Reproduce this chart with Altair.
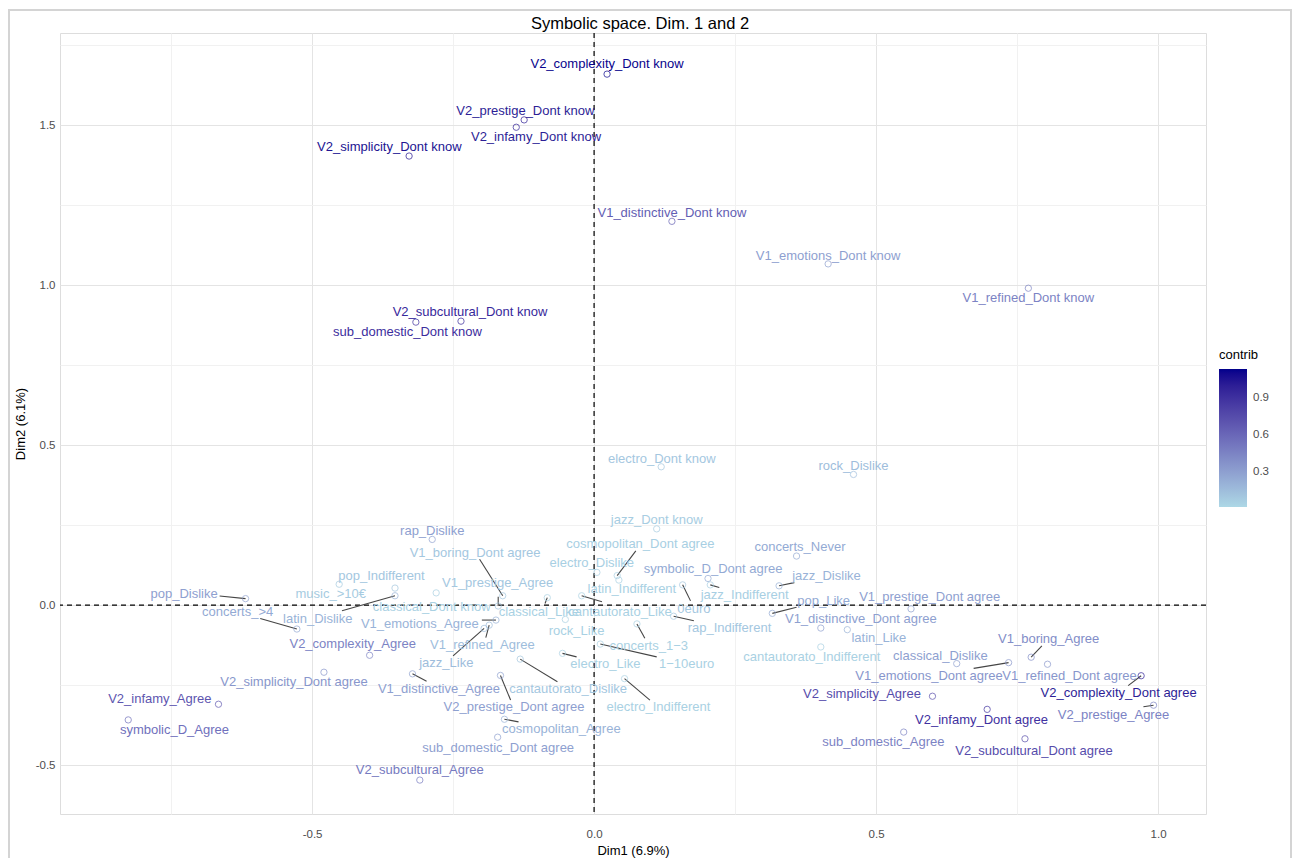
import altair as alt
import pandas as pd

# ---- data (MCA variable categories) ----
names = [
    "V2_complexity_Dont know", "V2_prestige_Dont know", "V2_infamy_Dont know", "V2_simplicity_Dont know",
    "V1_distinctive_Dont know", "V2_subcultural_Dont know", "sub_domestic_Dont know", "V1_emotions_Dont know",
    "V1_refined_Dont know", "electro_Dont know", "rock_Dislike", "jazz_Dont know",
    "cosmopolitan_Dont agree", "electro_Dislike", "latin_Indifferent", "symbolic_D_Dont agree",
    "jazz_Indifferent", "0euro", "rap_Indifferent", "cantautorato_Like",
    "concerts_1\u22123", "1\u221210euro", "electro_Like", "rock_Like",
    "classical_Like", "V1_boring_Dont agree", "V1_prestige_Agree", "classical_Dont know",
    "pop_Indifferent", "latin_Dislike", "music_>10\u20ac", "pop_Dislike",
    "concerts_>4", "V2_complexity_Agree", "V2_simplicity_Dont agree", "V2_infamy_Agree",
    "symbolic_D_Agree", "rap_Dislike", "V1_emotions_Agree", "jazz_Like",
    "V1_refined_Agree", "V1_distinctive_Agree", "cantautorato_Dislike", "V2_prestige_Dont agree",
    "electro_Indifferent", "cosmopolitan_Agree", "sub_domestic_Dont agree", "V2_subcultural_Agree",
    "concerts_Never", "jazz_Dislike", "pop_Like", "V1_prestige_Dont agree",
    "V1_distinctive_Dont agree", "latin_Like", "cantautorato_Indifferent", "classical_Dislike",
    "V1_emotions_Dont agree", "V1_boring_Agree", "V1_refined_Dont agree", "V2_complexity_Dont agree",
    "V2_prestige_Agree", "V2_simplicity_Agree", "V2_infamy_Dont agree", "sub_domestic_Agree",
    "V2_subcultural_Dont agree",
]
dim1 = [
    0.023, -0.124, -0.138, -0.328,
    0.138, -0.236, -0.316, 0.415,
    0.770, 0.119, 0.460, 0.111,
    0.041, 0.005, 0.044, 0.202,
    0.206, 0.157, 0.141, -0.022,
    0.076, 0.011, -0.056, -0.051,
    -0.083, -0.162, -0.170, -0.280,
    -0.353, -0.353, -0.452, -0.618,
    -0.527, -0.398, -0.479, -0.666,
    -0.826, -0.287, -0.174, -0.195,
    -0.186, -0.322, -0.131, -0.166,
    0.054, -0.159, -0.171, -0.309,
    0.359, 0.328, 0.316, 0.562,
    0.402, 0.449, 0.402, 0.643,
    0.735, 0.775, 0.804, 0.970,
    0.992, 0.600, 0.697, 0.549,
    0.764,
]
dim2 = [
    1.659, 1.516, 1.493, 1.403,
    1.199, 0.887, 0.884, 1.066,
    0.990, 0.432, 0.408, 0.238,
    0.092, 0.102, 0.078, 0.083,
    0.063, 0.063, -0.035, 0.029,
    -0.059, -0.122, -0.151, -0.045,
    0.023, 0.029, -0.003, 0.038,
    0.053, 0.029, 0.065, 0.020,
    -0.075, -0.157, -0.210, -0.310,
    -0.359, 0.205, -0.047, -0.073,
    -0.063, -0.215, -0.169, -0.220,
    -0.230, -0.357, -0.413, -0.547,
    0.153, 0.060, -0.026, -0.012,
    -0.072, -0.077, -0.131, -0.183,
    -0.180, -0.163, -0.185, -0.221,
    -0.313, -0.285, -0.326, -0.397,
    -0.418,
]
# repelled label positions (data units)
lab_x = [
    0.023, -0.122, -0.103, -0.363,
    0.138, -0.220, -0.331, 0.415,
    0.770, 0.120, 0.460, 0.111,
    0.082, -0.004, 0.067, 0.211,
    0.267, 0.177, 0.240, 0.046,
    0.097, 0.164, 0.020, -0.031,
    -0.098, -0.211, -0.171, -0.288,
    -0.377, -0.490, -0.467, -0.727,
    -0.632, -0.428, -0.532, -0.770,
    -0.744, -0.287, -0.309, -0.262,
    -0.198, -0.275, -0.046, -0.142,
    0.114, -0.058, -0.170, -0.309,
    0.365, 0.412, 0.407, 0.595,
    0.473, 0.505, 0.386, 0.614,
    0.594, 0.806, 0.843, 0.930,
    0.921, 0.475, 0.687, 0.513,
    0.780,
]
lab_y = [
    1.691, 1.544, 1.463, 1.432,
    1.226, 0.916, 0.853, 1.092,
    0.958, 0.457, 0.435, 0.266,
    0.190, 0.132, 0.049, 0.113,
    0.031, -0.012, -0.071, -0.021,
    -0.127, -0.183, -0.183, -0.081,
    -0.021, 0.162, 0.068, -0.005,
    0.092, -0.044, 0.034, 0.034,
    -0.022, -0.122, -0.242, -0.293,
    -0.392, 0.231, -0.060, -0.182,
    -0.125, -0.263, -0.263, -0.318,
    -0.318, -0.388, -0.448, -0.516,
    0.180, 0.091, 0.013, 0.024,
    -0.045, -0.104, -0.162, -0.159,
    -0.221, -0.106, -0.221, -0.276,
    -0.344, -0.278, -0.359, -0.429,
    -0.457,
]
contrib = [
    1.12, 1.00, 1.00, 1.05,
    0.65, 0.95, 0.92, 0.30,
    0.45, 0.10, 0.15, 0.07,
    0.06, 0.06, 0.05, 0.25,
    0.06, 0.10, 0.10, 0.05,
    0.05, 0.05, 0.05, 0.05,
    0.05, 0.10, 0.10, 0.05,
    0.10, 0.20, 0.08, 0.30,
    0.25, 0.45, 0.35, 0.70,
    0.55, 0.30, 0.20, 0.15,
    0.15, 0.30, 0.10, 0.30,
    0.05, 0.20, 0.30, 0.50,
    0.25, 0.20, 0.25, 0.30,
    0.30, 0.20, 0.05, 0.30,
    0.35, 0.40, 0.35, 1.00,
    0.45, 0.75, 0.90, 0.45,
    0.75,
]
# repel segments: label-side end point for categories whose label was pushed away
seg_names = [
    "cosmopolitan_Dont agree", "jazz_Indifferent", "0euro", "rap_Indifferent", "cantautorato_Like",
    "concerts_1\u22123", "1\u221210euro", "electro_Like", "classical_Like", "V1_boring_Dont agree",
    "V1_prestige_Agree", "latin_Dislike", "pop_Dislike", "concerts_>4", "V1_emotions_Agree",
    "jazz_Like", "V1_refined_Agree", "V1_distinctive_Agree", "cantautorato_Dislike",
    "V2_prestige_Dont agree", "electro_Indifferent", "cosmopolitan_Agree", "jazz_Dislike",
    "pop_Like", "V1_emotions_Dont agree", "V1_boring_Agree", "V2_complexity_Dont agree",
    "V2_prestige_Agree",
]
seg_x = [
    0.074, 0.222, 0.171, 0.177, 0.014,
    0.090, 0.111, -0.031, -0.087, -0.203,
    -0.170, -0.447, -0.664, -0.592, -0.199,
    -0.250, -0.192, -0.297, -0.065,
    -0.148, 0.099, -0.134, 0.355,
    0.359, 0.673, 0.794, 0.947,
    0.974,
]
seg_y = [
    0.169, 0.055, 0.013, -0.049, 0.010,
    -0.104, -0.162, -0.162, 0.005, 0.143,
    0.026, -0.018, 0.028, -0.042, -0.047,
    -0.159, -0.102, -0.238, -0.240,
    -0.297, -0.297, -0.365, 0.070,
    -0.007, -0.198, -0.128, -0.252,
    -0.318,
]
chart_title = "Symbolic space. Dim. 1 and 2"

df = pd.DataFrame(dict(name=names, dim1=dim1, dim2=dim2, lab_x=lab_x, lab_y=lab_y, contrib=contrib))
seg = pd.DataFrame(dict(name=seg_names, sx=seg_x, sy=seg_y)).merge(
    df[["name", "dim1", "dim2"]], on="name")

FONT = "Liberation Sans"
W, H = 1146, 781
xscale = alt.Scale(domain=[-0.947, 1.085], nice=False, zero=False)
yscale = alt.Scale(domain=[-0.653, 1.7875], nice=False, zero=False)
C_RANGE = ["#ADD8E6", "#00008B"]
cscale = alt.Scale(domain=[0.016, 1.135], range=C_RANGE, interpolate="lab")
# separate (practically identical) scale for the point outlines, so its hidden legend is not merged
sscale = alt.Scale(domain=[0.0160001, 1.135], range=C_RANGE, interpolate="lab")

major = "abs(datum.value*2 - round(datum.value*2)) < 0.001"
lab_expr = major + " ? replace(format(datum.value, '.1f'), '\u2212', '-') : ''"
grid_col = {"condition": {"test": major, "value": "#e4e4e4"}, "value": "#f1f1f1"}

xaxis = alt.Axis(values=[-0.75, -0.5, -0.25, 0, 0.25, 0.5, 0.75, 1.0], labelExpr=lab_expr,
                 title="Dim1 (6.9%)", ticks=False, domain=False, gridColor=grid_col,
                 labelPadding=14, titlePadding=5, labelFontSize=11.5, titleFontSize=13,
                 labelColor="#4d4d4d", titleColor="black", titleFontWeight="normal",
                 labelFont=FONT, titleFont=FONT)
yaxis = alt.Axis(values=[-0.5, -0.25, 0, 0.25, 0.5, 0.75, 1.0, 1.25, 1.5, 1.75], labelExpr=lab_expr,
                 title="Dim2 (6.1%)", ticks=False, domain=False, gridColor=grid_col,
                 labelPadding=5, titlePadding=8, labelFontSize=11.5, titleFontSize=13,
                 labelColor="#4d4d4d", titleColor="black", titleFontWeight="normal",
                 labelFont=FONT, titleFont=FONT)

legend = alt.Legend(title="contrib", type="gradient", orient="none", legendX=1159, legendY=316,
                    gradientLength=138, gradientThickness=28, values=[0.3, 0.6, 0.9],
                    titleFontSize=13, titleFontWeight="normal", titleColor="black", titleFont=FONT,
                    labelFontSize=11.5, labelColor="#4d4d4d", labelFont=FONT,
                    direction="vertical", gradientStrokeWidth=0, titlePadding=7, labelOffset=6)


def X(f):
    return alt.X(f, type="quantitative", scale=xscale, axis=xaxis)


def Y(f):
    return alt.Y(f, type="quantitative", scale=yscale, axis=yaxis)


frame = alt.Chart(pd.DataFrame({"a": [0]})).mark_rect(
    fillOpacity=0, stroke="#d4d4d4", strokeWidth=2).encode(
    x=alt.value(-51), x2=alt.value(1231), y=alt.value(-23), y2=alt.value(860))

title = alt.Chart(pd.DataFrame({"t": [chart_title]})).mark_text(
    fontSize=16.5, font=FONT, color="black", align="center", baseline="middle").encode(
    text="t:N", x=alt.value(580), y=alt.value(-9))

vline = alt.Chart(pd.DataFrame({"v": [0.0]})).mark_rule(
    color="black", strokeDash=[5, 4], strokeWidth=1.2).encode(x=X("v"))
hline = alt.Chart(pd.DataFrame({"v": [0.0]})).mark_rule(
    color="black", strokeDash=[5, 4], strokeWidth=1.2).encode(y=Y("v"))

segments = alt.Chart(seg).mark_rule(color="#454545", strokeWidth=1.1).encode(
    x=X("dim1"), y=Y("dim2"), x2="sx", y2="sy")

points = alt.Chart(df).mark_point(shape="circle", filled=False, size=40, strokeWidth=1).encode(
    x=X("dim1"), y=Y("dim2"),
    stroke=alt.Stroke("contrib:Q", scale=sscale, legend=None))

labels = alt.Chart(df).mark_text(fontSize=13, font=FONT, align="center", baseline="middle").encode(
    x=X("lab_x"), y=Y("lab_y"), text="name:N",
    color=alt.Color("contrib:Q", scale=cscale, legend=legend))

chart = alt.layer(frame, title, vline, hline, segments, points, labels).properties(
    width=W, height=H,
    autosize=alt.AutoSizeParams(type="none"),
    padding={"left": 52, "top": 25, "right": 86, "bottom": 44},
).resolve_scale(color="independent", stroke="independent").configure_view(stroke=None).configure(background="white")

chart.save("out.html", embed_options={"renderer": "svg", "actions": False})
